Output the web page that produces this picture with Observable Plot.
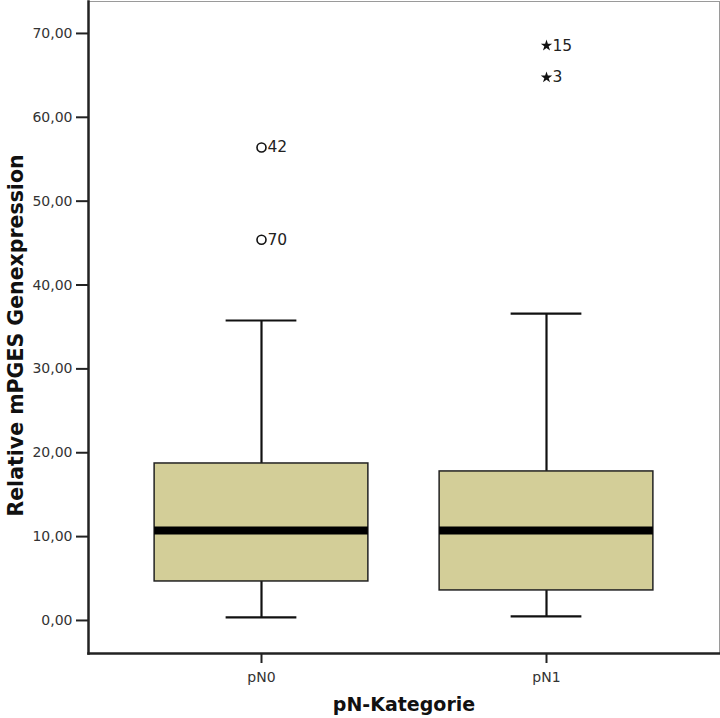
<!DOCTYPE html>
<html>
<head>
<meta charset="utf-8">
<script src="https://cdn.jsdelivr.net/npm/d3@7"></script>
<script src="https://cdn.jsdelivr.net/npm/@observablehq/plot@0.6"></script>
<style>
  html, body { margin: 0; padding: 0; background: #fff; }
</style>
</head>
<body>
<div id="chart"></div>
<script>
// Categories and box statistics
const categories = ["pN0", "pN1"];
const q1 = [4.65, 3.58];
const median = [10.73, 10.73];
const q3 = [18.72, 17.77];
const whiskerLow = [0.36, 0.48];
const whiskerHigh = [35.77, 36.6];

// Outliers
const outlierCategory = ["pN0", "pN0", "pN1", "pN1"];
const outlierValue = [56.4, 45.4, 68.55, 64.75];
const outlierId = ["42", "70", "15", "3"];
const outlierSymbol = ["circle", "circle", "star", "star"];

// Axis ticks and labels
const yTicks = [0, 10, 20, 30, 40, 50, 60, 70];
const xTitle = "pN-Kategorie";
const yTitle = "Relative mPGES Genexpression";

const boxes = categories.map((c, i) => ({
  cat: c, q1: q1[i], med: median[i], q3: q3[i], lo: whiskerLow[i], hi: whiskerHigh[i]
}));
const outliers = outlierCategory.map((c, i) => ({
  cat: c, v: outlierValue[i], id: outlierId[i], sym: outlierSymbol[i]
}));

const fmt = d => d3.format(".2f")(d).replace(".", ",");

const chart = Plot.plot({
  width: 720,
  height: 718,
  marginLeft: 88,
  marginRight: 1,
  marginTop: 1,
  marginBottom: 65,
  style: { fontFamily: "DejaVu Sans", fontSize: "14px", color: "#333", background: "#fff" },
  x: { type: "band", domain: categories, paddingInner: 0.25, paddingOuter: 0.232, round: false, label: null },
  y: { domain: [-3.94, 73.81], label: null },
  marks: [
    Plot.frame({ stroke: "#9a9a9a", strokeWidth: 1 }),
    // whiskers
    Plot.ruleX(boxes, { x: "cat", y1: "q3", y2: "hi", stroke: "#111", strokeWidth: 2.2 }),
    Plot.ruleX(boxes, { x: "cat", y1: "lo", y2: "q1", stroke: "#111", strokeWidth: 2.2 }),
    Plot.tickY(boxes, { x: "cat", y: "hi", stroke: "#111", strokeWidth: 2.2, insetLeft: 71.5, insetRight: 71.5 }),
    Plot.tickY(boxes, { x: "cat", y: "lo", stroke: "#111", strokeWidth: 2.2, insetLeft: 71.5, insetRight: 71.5 }),
    // boxes
    Plot.barY(boxes, { x: "cat", y1: "q1", y2: "q3", fill: "#d3ce98", stroke: "#222", strokeWidth: 1.5 }),
    // median
    Plot.tickY(boxes, { x: "cat", y: "med", stroke: "#000", strokeWidth: 8 }),
    // outliers
    Plot.dot(outliers.filter(d => d.sym === "circle"), { x: "cat", y: "v", symbol: "circle", r: 4.5, stroke: "#111", strokeWidth: 1.6, fill: "#fff" }),
    Plot.dot(outliers.filter(d => d.sym === "star"), { x: "cat", y: "v", symbol: "star", r: 3.6, fill: "#111", stroke: "none" }),
    Plot.text(outliers, { x: "cat", y: "v", text: "id", textAnchor: "start", dx: 6, fontSize: 15.5, fill: "#222" }),
    // axes
    Plot.axisY({ ticks: yTicks, tickFormat: fmt, tickSize: 12, tickPadding: 4, fontSize: 14, stroke: "#222", strokeWidth: 2, label: null }),
    Plot.axisX({ tickSize: 10, tickPadding: 9, fontSize: 14, stroke: "#222", strokeWidth: 2, label: null }),
    Plot.frame({ anchor: "left", stroke: "#222", strokeWidth: 2.5 }),
    Plot.frame({ anchor: "bottom", stroke: "#222", strokeWidth: 2.5 }),
    // titles
    Plot.text([yTitle], { frameAnchor: "left", textAnchor: "middle", rotate: -90, dx: -72, dy: 8, fontSize: 20.5, fontWeight: "bold", fill: "#111" }),
    Plot.text([xTitle], { frameAnchor: "bottom", textAnchor: "middle", dy: 57, fontSize: 19, fontWeight: "bold", fill: "#111" })
  ]
});

document.getElementById("chart").appendChild(chart);
</script>
</body>
</html>
